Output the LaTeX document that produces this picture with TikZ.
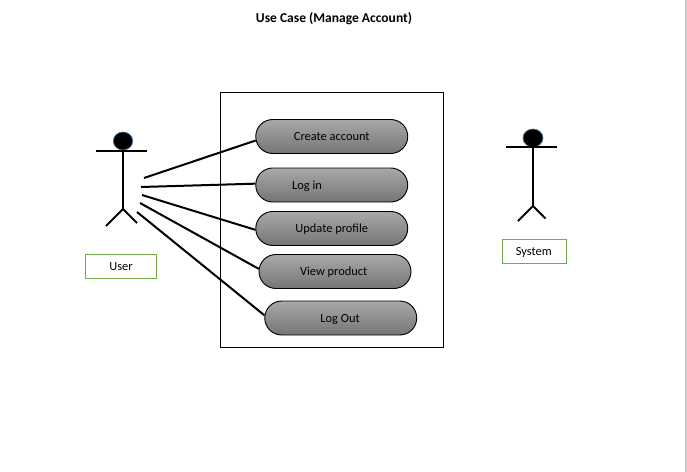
\documentclass[tikz,border=0pt]{standalone}
\usepackage{fontspec}
\setmainfont{Carlito}
\usetikzlibrary{shapes.misc,shapes.geometric}
\definecolor{boxgreen}{HTML}{70AD47}
\definecolor{headblue}{HTML}{3F6E9E}
\tikzset{
  labelfont/.style={font=\fontsize{9.3}{11}\selectfont, text height=8.5pt, text depth=2pt},
  usecase/.style={rounded rectangle, draw=black, line width=0.7pt, minimum width=114pt, minimum height=25.5pt, inner sep=0pt,
    top color=black!34, bottom color=black!54, labelfont},
  namebox/.style={draw=boxgreen, line width=0.75pt, inner sep=0pt, labelfont},
  link/.style={line width=1.5pt, black},
  limb/.style={line width=1.5pt, black},
  head/.style={ellipse, fill=black, draw=headblue, line width=0.5pt, inner sep=0pt},
  frame/.style={draw=black, line width=0.75pt, inner sep=0pt},
  titletext/.style={font=\bfseries\fontsize{10.15}{12}\selectfont}
}
\begin{document}
\begin{tikzpicture}[x=0.75pt,y=-0.75pt]
\useasboundingbox (0,0) rectangle (687,472);
\fill[white] (0,0) rectangle (687,472);
\draw[line width=1.5pt, black!22] (685.5,0) -- (685.5,472);
\node[titletext] (title) at (334,19) {Use Case (Manage Account)};
\node[frame, minimum width=167.25pt, minimum height=191.25pt] (sys) at (332,220) {};
% use cases
\node[usecase] (create) at (331.75,136.5) {Create account};
\node[usecase] (login) at (331.75,185) {};
\node[labelfont] (logintext) at (307,185) {Log in};
\node[usecase] (update) at (331.75,228.5) {Update profile};
\node[usecase] (view) at (335,271.5) {\hspace*{-2pt}View product};
\node[usecase] (logout) at (340.75,318) {\hspace*{-1pt}Log Out};
% user actor
\node[head, minimum width=14.5pt, minimum height=13.5pt] (uhead) at (123,141) {};
\coordinate (uarml) at (96,151);
\coordinate (uarmr) at (147,151);
\coordinate (uneck) at (123,151);
\coordinate (uhip) at (123,209);
\coordinate (ulegl) at (106,226);
\coordinate (ulegr) at (137,223);
\draw[limb] (uarml) -- (uarmr);
\draw[limb] (uneck) -- (uhip);
\draw[limb] (ulegl) -- (uhip) -- (ulegr);
\node[namebox, minimum width=53.5pt, minimum height=18pt] (ubox) at (121,266) {User};
% system actor
\node[head, minimum width=15pt, minimum height=13.5pt] (shead) at (533,138) {};
\coordinate (sarml) at (506,146.5);
\coordinate (sarmr) at (557,146.5);
\coordinate (sneck) at (533,146.5);
\coordinate (ship) at (533,206);
\coordinate (slegl) at (518,221);
\coordinate (slegr) at (545.5,218.5);
\draw[limb] (sarml) -- (sarmr);
\draw[limb] (sneck) -- (ship);
\draw[limb] (slegl) -- (ship) -- (slegr);
\node[namebox, minimum width=48pt, minimum height=18pt] (sbox) at (534.5,251) {\hspace*{-1pt}System};
% connectors
\coordinate (c1) at (144,178);
\coordinate (c2) at (141,187);
\coordinate (c3) at (142,195);
\coordinate (c4) at (140,203);
\coordinate (c5) at (137,212);
\draw[link] (c1) -- (create.183);
\draw[link] (c2) -- (login.179);
\draw[link] (c3) -- (update.181);
\draw[link] (c4) -- (view.178);
\draw[link] (c5) -- (logout.178);
\end{tikzpicture}
\end{document}
